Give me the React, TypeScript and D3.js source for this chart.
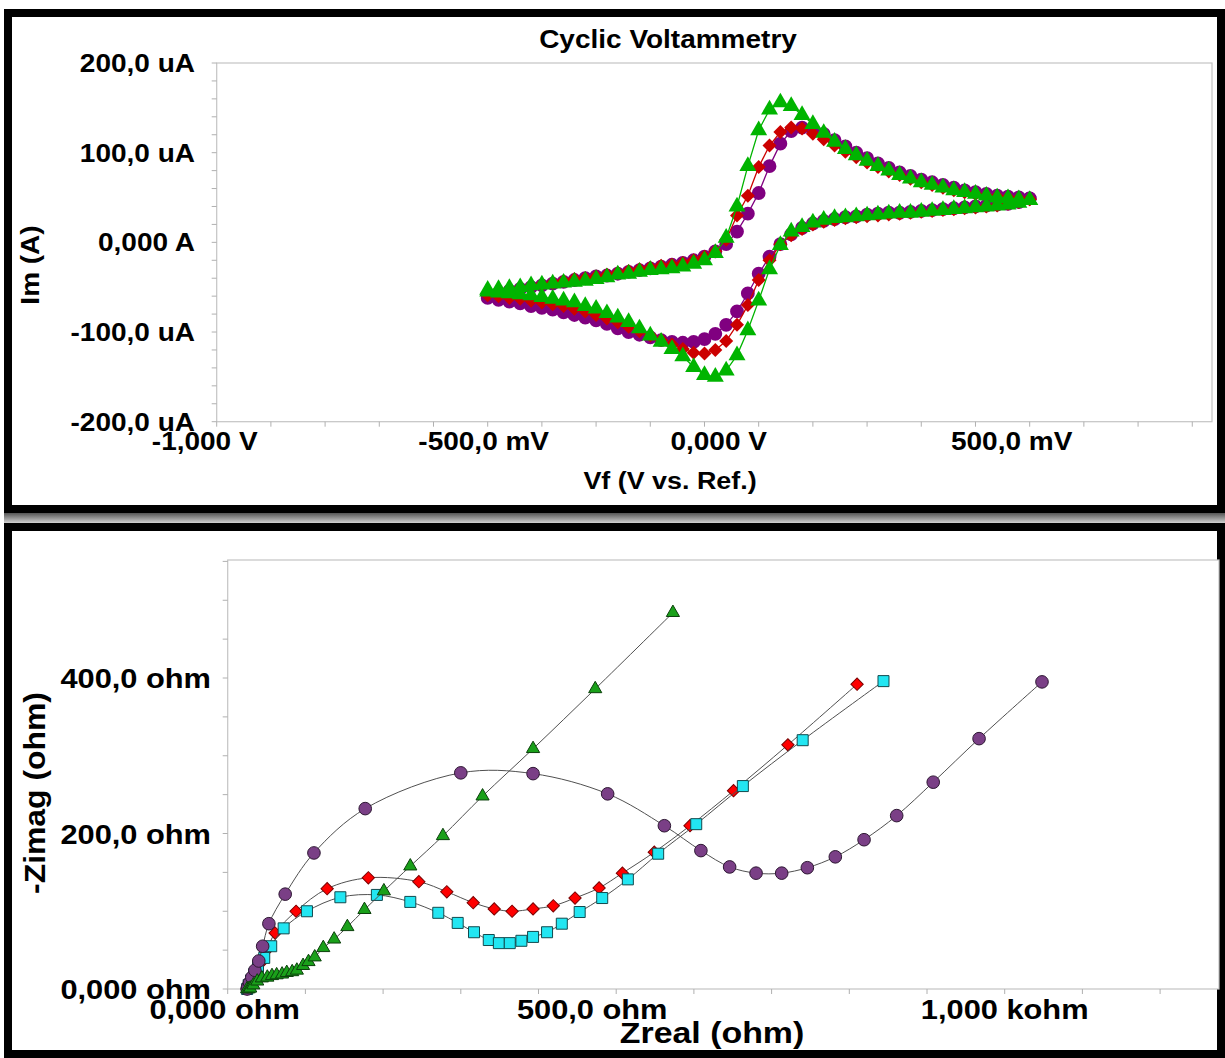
import React from 'react';
import * as d3 from 'd3';

// ---------- Cyclic voltammetry data (V, uA) ----------
const cvPotential = [-0.50,-0.48,-0.46,-0.44,-0.42,-0.40,-0.38,-0.36,-0.34,-0.32,-0.30,-0.28,-0.26,-0.24,-0.22,-0.20,-0.18,-0.16,-0.14,-0.12,-0.10,-0.08,-0.06,-0.04,-0.02,0.00,0.02,0.04,0.06,0.08,0.10,0.12,0.14,0.16,0.18,0.20,0.22,0.24,0.26,0.28,0.30,0.32,0.34,0.36,0.38,0.40,0.42,0.44,0.46,0.48,0.50];
// forward scans: values follow cvPotential ascending
const purpleForward = [-60,-57,-54,-52,-50,-48,-46,-44,-42,-40,-38,-37,-35,-33,-31,-29,-27,-25,-23,-20,-16,-10,-2,12,32,55,85,110,124,128,126,121,114,107,100,94,88,83,78,74,70,67,64,61,58,56,54,52,51,50,49];
const redForward = [-58,-55,-53,-51,-49,-47,-45,-43,-41,-40,-38,-36,-34,-32,-30,-28,-26,-25,-23,-20,-16,-10,3,30,52,84,108,123,128,127,121,115,108,101,95,89,84,79,75,71,67,64,61,58,56,54,52,51,50,49,48];
const greenForward = [-53,-52,-51,-50,-48,-47,-46,-45,-44,-43,-41,-39,-36,-35,-33,-31,-30,-29,-27,-24,-20,-12,5,40,85,125,148,156,152,142,132,122,112,104,97,91,85,80,75,71,67,64,61,58,56,54,52,50,49,48,47];
// reverse scans: values follow cvPotential descending (0.50 -> -0.50)
const purpleReverse = [49,45,43,42,41,40,39,38,37,36,35,34,33,33,32,31,29,28,26,24,21,16,9,-2,-16,-35,-57,-77,-92,-102,-108,-111,-112,-111,-109,-106,-103,-100,-96,-91,-87,-84,-81,-78,-75,-73,-71,-68,-66,-64,-62];
const redReverse = [48,45,43,41,40,39,38,37,36,35,34,33,32,31,30,29,28,27,25,23,20,15,8,-2,-20,-42,-70,-92,-110,-120,-124,-123,-119,-114,-109,-104,-99,-94,-89,-85,-81,-77,-74,-71,-69,-67,-65,-63,-62,-60,-59];
const greenReverse = [47,44,42,41,40,39,38,37,36,35,34,33,33,32,31,30,29,28,27,25,22,17,12,-3,-30,-65,-98,-126,-143,-150,-148,-139,-127,-119,-111,-104,-96,-89,-84,-79,-74,-71,-67,-65,-63,-61,-59,-58,-57,-56,-55];

const cvXTickValues = [-1, -0.5, 0, 0.5];
const cvXTickLabels = ['-1,000 V', '-500,0 mV', '0,000 V', '500,0 mV'];
const cvYTickValues = [200, 100, 0, -100, -200];
const cvYTickLabels = ['200,0 uA', '100,0 uA', '0,000 A', '-100,0 uA', '-200,0 uA'];

// ---------- Nyquist data (ohm) ----------
const purpleZre = [25,26,28,31,35,40,45,53,74,111,177,300,393,489,562,609,646,680,713,746,782,819,861,908,967,1048];
const purpleZim = [0,3,8,15,24,36,55,84,122,175,232,278,277,251,210,178,157,149,149,156,170,192,223,266,322,395];
const redZre = [25,27,30,35,42,50,61,88,128,181,246,282,316,343,366,393,419,447,478,508,549,595,651,721,810];
const redZim = [0,4,10,20,33,50,72,100,129,143,138,125,111,103,100,103,107,117,130,149,176,210,255,314,392];
const cyanZre = [25,27,30,34,39,47,56,72,102,145,192,235,271,296,317,336,349,363,378,393,411,430,453,482,515,554,603,663,740,844];
const cyanZim = [0,5,11,19,28,40,55,78,100,118,121,112,98,85,73,63,59,59,62,67,73,84,99,117,141,174,212,261,320,396];
const greenZre = [25,27,29,33,38,44,51,57,63,70,76,83,89,97,104,112,123,137,154,176,201,235,277,328,393,473,573];
const greenZim = [0,0,1,5,10,14,15,17,18,19,21,22,24,30,35,41,53,64,80,102,126,158,197,248,309,386,484];

const nyXTickValues = [0, 500, 1000];
const nyXTickLabels = ['0,000 ohm', '500,0 ohm', '1,000 kohm'];
const nyYTickValues = [400, 200, 0];
const nyYTickLabels = ['400,0 ohm', '200,0 ohm', '0,000 ohm'];

const FONT = '"Liberation Sans", Arial, Helvetica, sans-serif';

function T({ x, y, children, size, anchor = 'middle', rotate = 0, sx = 1.12 }: any) {
  return (
    <text
      transform={`translate(${x},${y}) rotate(${rotate}) scale(${sx},1)`}
      textAnchor={anchor}
      fontFamily={FONT}
      fontWeight="bold"
      fontSize={size}
      fill="#000"
    >
      {children}
    </text>
  );
}

export default function App() {
  // ---------- top chart ----------
  const cvL = 216.7, cvR = 1212, cvT = 63, cvB = 421.7;
  const cx = d3.scaleLinear().domain([-1, 0.8364]).range([cvL, cvR]);
  const cy = d3.scaleLinear().domain([-200, 200]).range([cvB, cvT]);
  const cvReversePotential = cvPotential.slice().reverse();
  const mkLoop = (fw: number[], rv: number[]) => [
    ...cvPotential.map((v, i) => [v, fw[i]] as [number, number]),
    ...cvReversePotential.map((v, i) => [v, rv[i]] as [number, number]),
  ];
  const cvSeries = [
    { data: mkLoop(purpleForward, purpleReverse), color: '#800080', sym: 'circle' },
    { data: mkLoop(redForward, redReverse), color: '#cc0000', sym: 'diamond' },
    { data: mkLoop(greenForward, greenReverse), color: '#00b400', sym: 'triangle' },
  ];
  const cvLine = d3.line<[number, number]>().x(d => cx(d[0])).y(d => cy(d[1]));
  const cvCircle = d3.symbol().type(d3.symbolCircle).size(150)() as string;
  const cvTri = d3.symbol().type(d3.symbolTriangle).size(125)() as string;
  const cvDia = d3.symbol().type(d3.symbolSquare).size(98)() as string;
  const cvMinorX = d3.range(-1, 0.84, 0.1);
  const cvMinorY = d3.range(-200, 201, 20);
  const cvXLabelDx = [-12, -4, -40, -18];

  // ---------- bottom chart ----------
  const nyL = 227.7, nyR = 1219, nyT = 560, nyB = 989;
  const nx = d3.scaleLinear().domain([0, (nyR - nyL) / 0.777]).range([nyL, nyR]);
  const ny = d3.scaleLinear().domain([0, (nyB - nyT) / 0.7775]).range([nyB, nyT]);
  const zip = (a: number[], b: number[]) => a.map((v, i) => [v, b[i]] as [number, number]);
  const nySeries = [
    { data: zip(redZre, redZim), fill: '#ff0000', stroke: '#7a0000', sym: 'diamond' },
    { data: zip(cyanZre, cyanZim), fill: '#22e6f2', stroke: '#124a4e', sym: 'square' },
    { data: zip(purpleZre, purpleZim), fill: '#7a3f86', stroke: '#2e1833', sym: 'circle' },
    { data: zip(greenZre, greenZim), fill: '#1aa01a', stroke: '#0b400b', sym: 'triangle' },
  ];
  const nyLine = d3.line<[number, number]>().x(d => nx(d[0])).y(d => ny(d[1])).curve(d3.curveCatmullRom.alpha(0.5));
  const nyCircle = d3.symbol().type(d3.symbolCircle).size(125)() as string;
  const nySquare = d3.symbol().type(d3.symbolSquare).size(121)() as string;
  const nyTri = d3.symbol().type(d3.symbolTriangle).size(75)() as string;
  const nyDia = d3.symbol().type(d3.symbolSquare).size(76)() as string;
  const nyMinorX = d3.range(0, 1276, 100);
  const nyMinorY = d3.range(0, 552, 50);
  const nyXLabelDx = [-3, -24, 0];

  const cvPath = (s: string) => (s === 'circle' ? cvCircle : s === 'triangle' ? cvTri : cvDia);
  const nyPath = (s: string) => (s === 'circle' ? nyCircle : s === 'triangle' ? nyTri : s === 'square' ? nySquare : nyDia);

  return (
    <svg width={1225} height={1058} style={{ position: 'absolute', left: 0, top: 0, background: '#fff' }}>
      <defs>
        <linearGradient id="shadow" x1="0" y1="0" x2="0" y2="1">
          <stop offset="0" stopColor="#555" />
          <stop offset="1" stopColor="#ddd" />
        </linearGradient>
      </defs>
      <rect x={0} y={0} width={1225} height={1058} fill="#fff" />

      {/* panel frames */}
      <rect x={4} y={513} width={1221} height={11} fill="url(#shadow)" />
      <rect x={8} y={13} width={1213} height={496} fill="#fff" stroke="#000" strokeWidth={8} />
      <rect x={8} y={527} width={1213} height={527} fill="#fff" stroke="#000" strokeWidth={8} />

      {/* ================= TOP: Cyclic Voltammetry ================= */}
      <rect x={cvL} y={cvT} width={cvR - cvL} height={cvB - cvT} fill="#fff" stroke="#c4c4c4" strokeWidth={1.2} />
      {cvMinorY.map((v, i) => (
        <line key={'cyt' + i} x1={cvL - 5} x2={cvL} y1={cy(v)} y2={cy(v)} stroke="#b0b0b0" strokeWidth={1} />
      ))}
      {cvMinorX.map((v, i) => (
        <line key={'cxt' + i} x1={cx(v)} x2={cx(v)} y1={cvB} y2={cvB + 5} stroke="#b0b0b0" strokeWidth={1} />
      ))}
      {cvSeries.map((s, si) => (
        <g key={'cv' + si}>
          <path d={cvLine(s.data) as string} fill="none" stroke={s.color} strokeWidth={1.3} />
          {s.data.map((d, i) => (
            <path
              key={i}
              d={cvPath(s.sym)}
              transform={`translate(${cx(d[0])},${cy(d[1])})${s.sym === 'diamond' ? ' rotate(45)' : ''}`}
              fill={s.color}
            />
          ))}
        </g>
      ))}
      {cvYTickValues.map((v, i) => (
        <T key={'cyl' + i} x={195} y={cy(v) + 9} size={25} anchor="end">{cvYTickLabels[i]}</T>
      ))}
      {cvXTickValues.map((v, i) => (
        <T key={'cxl' + i} x={cx(v) + cvXLabelDx[i]} y={450} size={25}>{cvXTickLabels[i]}</T>
      ))}
      <T x={668} y={48} size={25}>Cyclic Voltammetry</T>
      <T x={670} y={489} size={24}>Vf (V vs. Ref.)</T>
      <T x={39} y={265} size={25} rotate={-90}>Im (A)</T>

      {/* ================= BOTTOM: Nyquist ================= */}
      <rect x={nyL} y={nyT} width={nyR - nyL} height={nyB - nyT} fill="#fff" stroke="#c4c4c4" strokeWidth={1.2} />
      {nyMinorY.map((v, i) => (
        <line key={'nyt' + i} x1={nyL - 5} x2={nyL} y1={ny(v)} y2={ny(v)} stroke="#b0b0b0" strokeWidth={1} />
      ))}
      {nyMinorX.map((v, i) => (
        <line key={'nxt' + i} x1={nx(v)} x2={nx(v)} y1={nyB} y2={nyB + 5} stroke="#b0b0b0" strokeWidth={1} />
      ))}
      {nySeries.map((s, si) => (
        <g key={'ny' + si}>
          <path d={nyLine(s.data) as string} fill="none" stroke="#505050" strokeWidth={1} />
          {s.data.map((d, i) => (
            <path
              key={i}
              d={nyPath(s.sym)}
              transform={`translate(${nx(d[0])},${ny(d[1])})${s.sym === 'diamond' ? ' rotate(45)' : ''}`}
              fill={s.fill}
              stroke={s.stroke}
              strokeWidth={1}
            />
          ))}
        </g>
      ))}
      {nyYTickValues.map((v, i) => (
        <T key={'nyl' + i} x={211} y={ny(v) + 10} size={28} anchor="end" sx={1.1}>{nyYTickLabels[i]}</T>
      ))}
      {nyXTickValues.map((v, i) => (
        <T key={'nxl' + i} x={nx(v) + nyXLabelDx[i]} y={1019} size={28} sx={1.1}>{nyXTickLabels[i]}</T>
      ))}
      <T x={712} y={1043} size={30} sx={1.13}>Zreal (ohm)</T>
      <T x={45} y={793} size={29} rotate={-90} sx={1.1}>-Zimag (ohm)</T>
    </svg>
  );
}
